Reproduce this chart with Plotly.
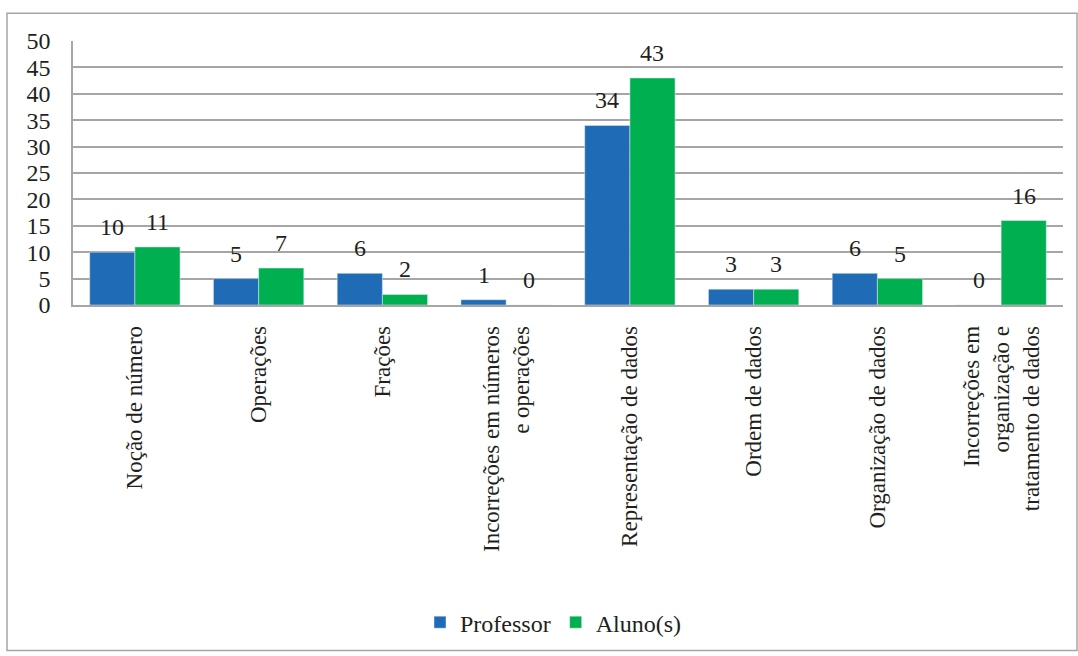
import plotly.graph_objects as go

categories = [
    "Noção de número",
    "Operações",
    "Frações",
    "Incorreções em números<br>e operações",
    "Representação de dados",
    "Ordem de dados",
    "Organização de dados",
    "Incorreções em<br>organização e<br>tratamento de dados",
]
professor = [10, 5, 6, 1, 34, 3, 6, 0]
alunos = [11, 7, 2, 0, 43, 3, 5, 16]
y_ticks = [0, 5, 10, 15, 20, 25, 30, 35, 40, 45, 50]

FONT = "Times"
BLUE = "#1F6BB5"
GREEN = "#00B050"
TXT = "#231F20"

fig = go.Figure()
fig.add_trace(go.Bar(name="Professor", x=categories, y=professor, marker_color=BLUE))
fig.add_trace(go.Bar(name="Aluno(s)", x=categories, y=alunos, marker_color=GREEN))

# data labels above bars
for series, shift in ((professor, -22.5), (alunos, 22.5)):
    for c, v in zip(categories, series):
        fig.add_annotation(x=c, y=v, text=str(v), showarrow=False, xshift=shift,
                           yanchor="middle", yshift=25,
                           font=dict(size=24, family=FONT, color=TXT))

W, H = 1078, 656
L, R, T, B = 73, 15, 41, 349
pw, ph = W - L - R, H - T - B

def px(x):
    return (x - L) / pw

def py(y):
    return (H - B - y) / ph

fig.update_layout(
    width=W, height=H,
    margin=dict(l=L, r=R, t=T, b=B),
    font=dict(family=FONT, size=24, color=TXT),
    paper_bgcolor="white", plot_bgcolor="white",
    barmode="group", bargap=0.27, bargroupgap=0,
    showlegend=True,
    legend=dict(orientation="h", x=px(553), xanchor="center", y=py(627), yanchor="middle",
                font=dict(size=24, family=FONT, color=TXT), itemwidth=30, traceorder="normal"),
    shapes=[dict(type="rect", xref="paper", yref="paper",
                 x0=px(7), x1=px(1077), y0=py(655), y1=py(13),
                 line=dict(color="#A6A6A6", width=1.5), fillcolor="rgba(0,0,0,0)", layer="below")],
)
fig.update_yaxes(range=[0, 50], tickvals=y_ticks, showgrid=True, gridcolor="#A6A6A6", gridwidth=1.5,
                 showline=True, linecolor="#A6A6A6", linewidth=1.5, zeroline=False,
                 ticks="", ticklabelstandoff=16, tickfont=dict(size=24, family=FONT, color=TXT))
fig.update_xaxes(showline=True, linecolor="#A6A6A6", linewidth=1.5, tickangle=-90, showgrid=False,
                 ticks="", ticklabelstandoff=10, tickfont=dict(size=23, family=FONT, color=TXT))

fig.write_html("out.html")
